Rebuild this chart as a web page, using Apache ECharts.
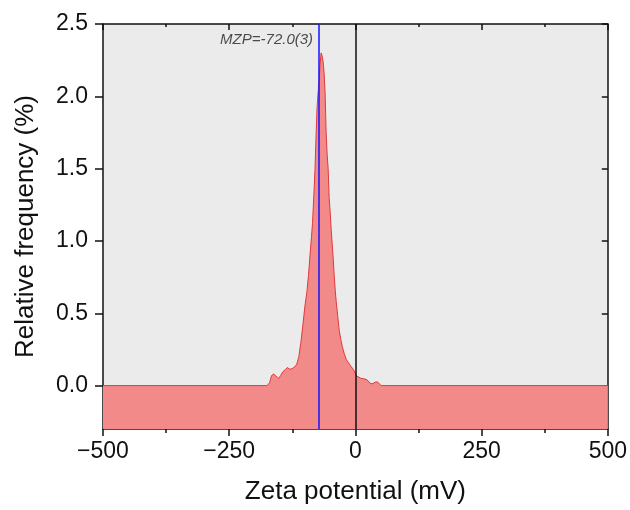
<!DOCTYPE html>
<html>
<head>
<meta charset="utf-8">
<script src="https://cdn.jsdelivr.net/npm/echarts@6/dist/echarts.min.js"></script>
<style>
  html, body { margin: 0; padding: 0; background: #fff; }
  #chart { width: 630px; height: 510px; }
</style>
</head>
<body>
<div id="chart"></div>
<script>
// распределение дзета-потенциала, значения
const zeta = [-500, -175, -170, -166, -162, -157, -152, -148, -144, -139, -135, -130, -125, -120,
  -116, -112, -108, -104, -100, -96, -93, -90, -87, -85, -82, -80, -78, -76, -74, -72, -70, -68,
  -66, -64, -62, -60, -58, -56, -54, -52, -50, -48, -46, -44, -42, -40, -38, -35, -32, -29, -26,
  -22, -18, -14, -10, -6, -3, 0, 3, 7, 11, 15, 19, 23, 27, 31, 35, 40, 44, 47, 51, 500];
const freq = [0, 0, 0.02, 0.07, 0.08, 0.065, 0.05, 0.07, 0.095, 0.11, 0.125, 0.113, 0.118, 0.13,
  0.15, 0.2, 0.3, 0.42, 0.55, 0.65, 0.76, 0.9, 1.03, 1.12, 1.34, 1.5, 1.72, 1.92, 2.02, 2.1, 2.22, 2.3,
  2.28, 2.24, 2.16, 2.02, 1.75, 1.6, 1.5, 1.3, 1.2, 1.08, 0.98, 0.88, 0.76, 0.66, 0.58, 0.48, 0.38, 0.32, 0.27,
  0.22, 0.18, 0.16, 0.14, 0.12, 0.105, 0.085, 0.065, 0.058, 0.05, 0.048, 0.045, 0.04, 0.025, 0.012, 0.015, 0.025, 0.025, 0.012, 0, 0];

const mzpValue = -72;
const mzpText = 'MZP=-72.0(3)';
const mzpLabelY = 2.39;
const zeroLine = 0;

const xRange = [-500, 500];
const yRange = [-0.3, 2.5];
const yTickValues = [0, 0.5, 1, 1.5, 2, 2.5];

const font = 'Arial, "Liberation Sans", sans-serif';
const fmtX = v => (v < 0 ? '\u2212' + Math.abs(v) : String(v));

const chart = echarts.init(document.getElementById('chart'));

const axisLine = { show: true, onZero: false, lineStyle: { color: '#111', width: 1.5 } };

chart.setOption({
  animation: false,
  backgroundColor: '#fff',
  grid: {
    left: 103, right: 21, top: 24, bottom: 77,
    show: true, backgroundColor: '#ebebeb', borderWidth: 0
  },
  xAxis: [
    {
      type: 'value',
      min: xRange[0], max: xRange[1], interval: 250,
      name: 'Zeta potential (mV)',
      nameLocation: 'middle', nameGap: 50,
      nameTextStyle: { fontFamily: font, fontSize: 26, color: '#111' },
      axisLine: axisLine,
      axisTick: { show: true, length: 7, lineStyle: { color: '#111', width: 1.5 } },
      minorTick: { show: true, splitNumber: 2, length: 4, lineStyle: { color: '#111', width: 1.5 } },
      axisLabel: { fontFamily: font, fontSize: 23, color: '#111', margin: 11, formatter: fmtX },
      splitLine: { show: false }
    },
    {
      type: 'value', position: 'top',
      min: xRange[0], max: xRange[1], interval: 250,
      axisLine: axisLine,
      axisTick: { show: true, inside: true, length: 6, lineStyle: { color: '#111', width: 1.5 } },
      minorTick: { show: true, splitNumber: 2, length: 3, lineStyle: { color: '#111', width: 1.5 } },
      axisLabel: { show: false },
      splitLine: { show: false }
    }
  ],
  yAxis: [
    {
      type: 'value',
      min: yRange[0], max: yRange[1], interval: 0.5,
      name: 'Relative frequency (%)',
      nameLocation: 'middle', nameGap: 64,
      nameTextStyle: { fontFamily: font, fontSize: 26, color: '#111' },
      axisLine: axisLine,
      axisTick: { show: true, length: 8, lineStyle: { color: '#111', width: 1.5 },
        customValues: yTickValues },
      axisLabel: { fontFamily: font, fontSize: 23, color: '#111', margin: 15,
        customValues: yTickValues, formatter: v => v.toFixed(1) },
      splitLine: { show: false }
    },
    {
      type: 'value', position: 'right',
      min: yRange[0], max: yRange[1], interval: 0.5,
      axisLine: axisLine,
      axisTick: { show: true, inside: true, length: 6, lineStyle: { color: '#111', width: 1.5 },
        customValues: yTickValues },
      axisLabel: { show: false },
      splitLine: { show: false }
    }
  ],
  series: [
    {
      type: 'line',
      data: zeta.map((x, i) => [x, freq[i]]),
      symbol: 'none',
      lineStyle: { color: '#e0393b', width: 1 },
      areaStyle: { color: '#f28a8a', opacity: 1, origin: 'start' },
      z: 2
    },
    {
      // чёрная линия на нуле
      type: 'line', data: [], z: 3,
      markLine: {
        silent: true, symbol: 'none', label: { show: false },
        lineStyle: { color: '#111', width: 1.5, type: 'solid' },
        data: [{ xAxis: zeroLine }]
      }
    },
    {
      // синяя линия MZP
      type: 'line', data: [], z: 4,
      markLine: {
        silent: true, symbol: 'none', label: { show: false },
        lineStyle: { color: '#1515ff', width: 1.5, type: 'solid', opacity: 1 },
        emphasis: { disabled: true },
        data: [{ xAxis: mzpValue }]
      }
    },
    {
      type: 'scatter',
      data: [[mzpValue, mzpLabelY]],
      symbolSize: 0,
      label: {
        show: true, position: 'left', distance: 6,
        formatter: mzpText,
        fontFamily: font, fontSize: 15, fontStyle: 'italic', color: '#222'
      },
      silent: true, z: 5
    }
  ]
});
</script>
</body>
</html>
